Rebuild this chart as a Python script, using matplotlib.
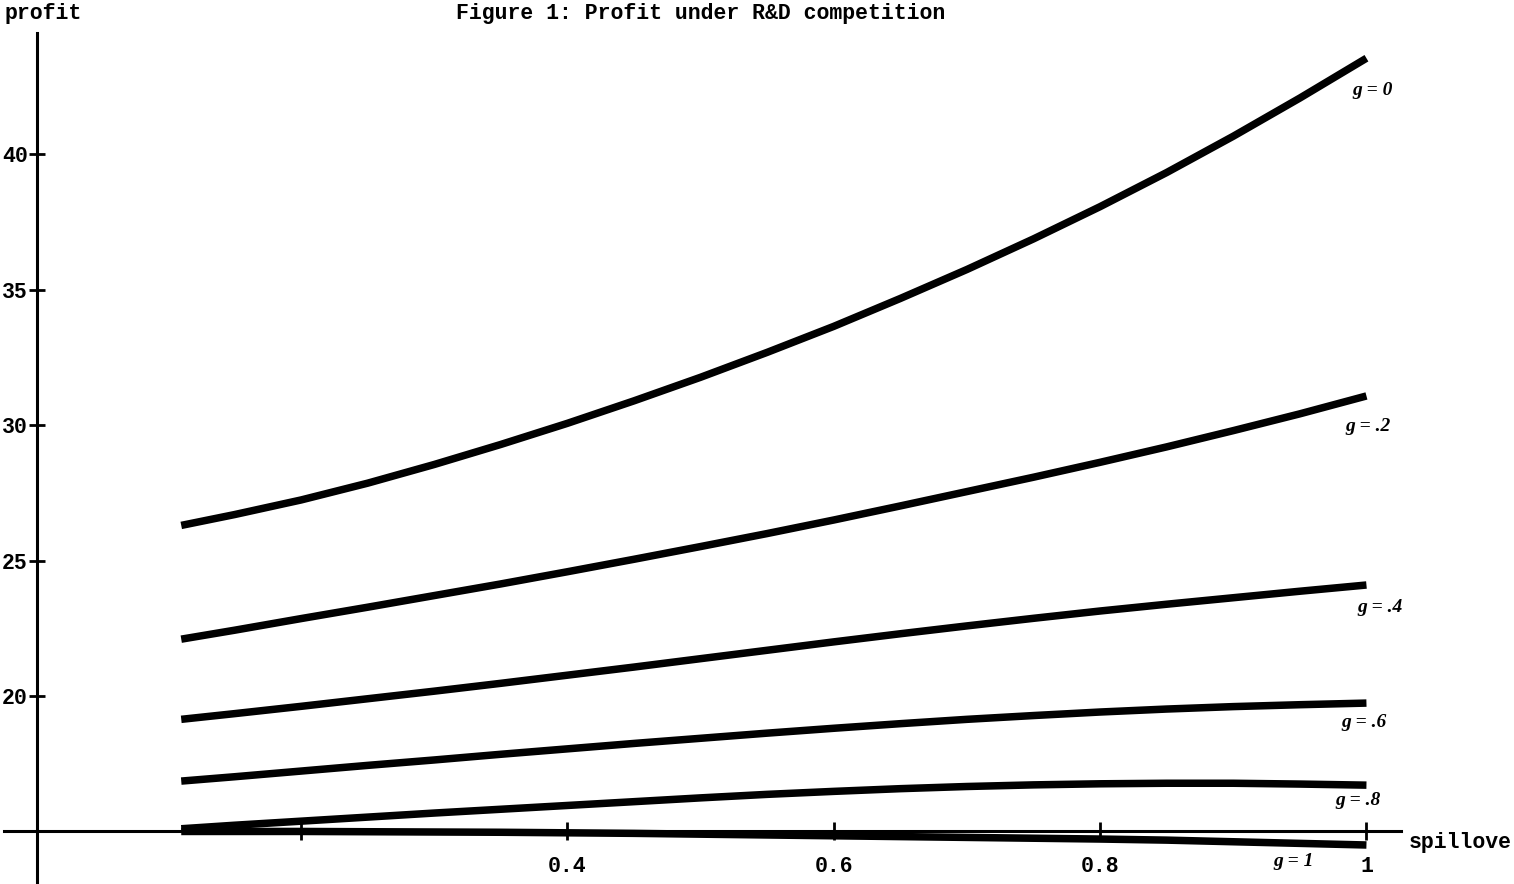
import matplotlib
matplotlib.use("Agg")
import matplotlib.pyplot as plt

# ---- data ----
spillover = [0.11, 0.15, 0.2, 0.25, 0.3, 0.35, 0.4, 0.45, 0.5, 0.55,
             0.6, 0.65, 0.7, 0.75, 0.8, 0.85, 0.9, 0.95, 1.0]
profit_g0 = [26.3, 26.7, 27.24, 27.86, 28.55, 29.29, 30.07, 30.9, 31.77, 32.69,
             33.65, 34.68, 35.75, 36.88, 38.07, 39.33, 40.67, 42.08, 43.55]
profit_g02 = [22.1, 22.43, 22.86, 23.28, 23.71, 24.14, 24.59, 25.05, 25.52, 26.0,
              26.5, 27.02, 27.55, 28.08, 28.63, 29.2, 29.8, 30.42, 31.08]
profit_g04 = [19.14, 19.35, 19.62, 19.9, 20.18, 20.47, 20.77, 21.07, 21.38, 21.69,
              22.0, 22.3, 22.59, 22.87, 23.14, 23.39, 23.63, 23.87, 24.1]
profit_g06 = [16.86, 17.02, 17.23, 17.44, 17.64, 17.85, 18.05, 18.25, 18.44, 18.63,
              18.81, 18.98, 19.14, 19.28, 19.41, 19.52, 19.61, 19.68, 19.74]
profit_g08 = [15.1, 15.23, 15.38, 15.53, 15.68, 15.82, 15.96, 16.1, 16.24, 16.37,
              16.48, 16.58, 16.66, 16.72, 16.76, 16.78, 16.78, 16.75, 16.71]
profit_g1 = [15.0, 15.0, 15.0, 14.99, 14.98, 14.97, 14.95, 14.93, 14.9, 14.87,
             14.84, 14.81, 14.78, 14.75, 14.72, 14.68, 14.62, 14.56, 14.5]

series = [profit_g0, profit_g02, profit_g04, profit_g06, profit_g08, profit_g1]
curve_labels = ["g = 0", "g = .2", "g = .4", "g = .6", "g = .8", "g = 1"]
label_offsets_px = [(-14, -32), (-21, -31), (-9, -23), (-25, -19), (-31, -15), (-93, -17)]

xticks = [0.2, 0.4, 0.6, 0.8, 1.0]
xtick_labels = ["", "0.4", "0.6", "0.8", "1"]
yticks = [20, 25, 30, 35, 40]
ytick_labels = ["20", "25", "30", "35", "40"]

title = "Figure 1: Profit under R&D competition"
ylabel = "profit"
xlabel = "spillove"

MONO = ["Liberation Mono", "DejaVu Sans Mono"]
HAND = ["Liberation Serif", "DejaVu Serif"]
FS = 15.5

fig = plt.figure(figsize=(15.14, 8.84), dpi=100)
ax = fig.add_axes([0, 0, 1, 1])
ax.set_facecolor("white")
ax.set_xlim(-0.0261, 1.1108)
ax.set_ylim(13.06, 45.70)

for s in ["top", "right"]:
    ax.spines[s].set_visible(False)
ax.spines["left"].set_position(("data", 0.002))
ax.spines["bottom"].set_position(("data", 15))
ax.spines["left"].set_bounds(13.06, 44.5)
ax.spines["bottom"].set_bounds(-0.023, 1.026)
for s in ["left", "bottom"]:
    ax.spines[s].set_linewidth(2.2)
    ax.spines[s].set_color("black")

ax.set_xticks(xticks)
ax.set_xticklabels(xtick_labels, fontfamily=MONO, fontweight="bold", fontsize=FS)
ax.set_yticks(yticks)
ax.set_yticklabels(ytick_labels, fontfamily=MONO, fontweight="bold", fontsize=FS)
ax.tick_params(axis="x", direction="inout", length=13, width=2.0, pad=11.5)
ax.tick_params(axis="y", direction="inout", length=12, width=2.0, pad=1.0)

for ys in series:
    ax.plot(spillover, ys, color="black", linewidth=5.4, solid_capstyle="butt",
            solid_joinstyle="round")

for ys, lab, (dx, dy) in zip(series, curve_labels, label_offsets_px):
    ax.annotate(lab, xy=(spillover[-1], ys[-1]), xytext=(dx, dy),
                textcoords="offset pixels", ha="left", va="center",
                fontsize=14, fontstyle="italic", fontweight="bold", fontfamily=HAND)

ax.text(1.032, 15 - 0.42, xlabel, ha="left", va="center",
        fontfamily=MONO, fontweight="bold", fontsize=FS)
fig.text(5 / 1514, 1 - 14 / 884, ylabel, ha="left", va="center",
         fontfamily=MONO, fontweight="bold", fontsize=FS)
fig.text(701 / 1514, 1 - 14 / 884, title, ha="center", va="center",
         fontfamily=MONO, fontweight="bold", fontsize=FS)

fig.savefig("out.png", dpi=100, facecolor="white")
